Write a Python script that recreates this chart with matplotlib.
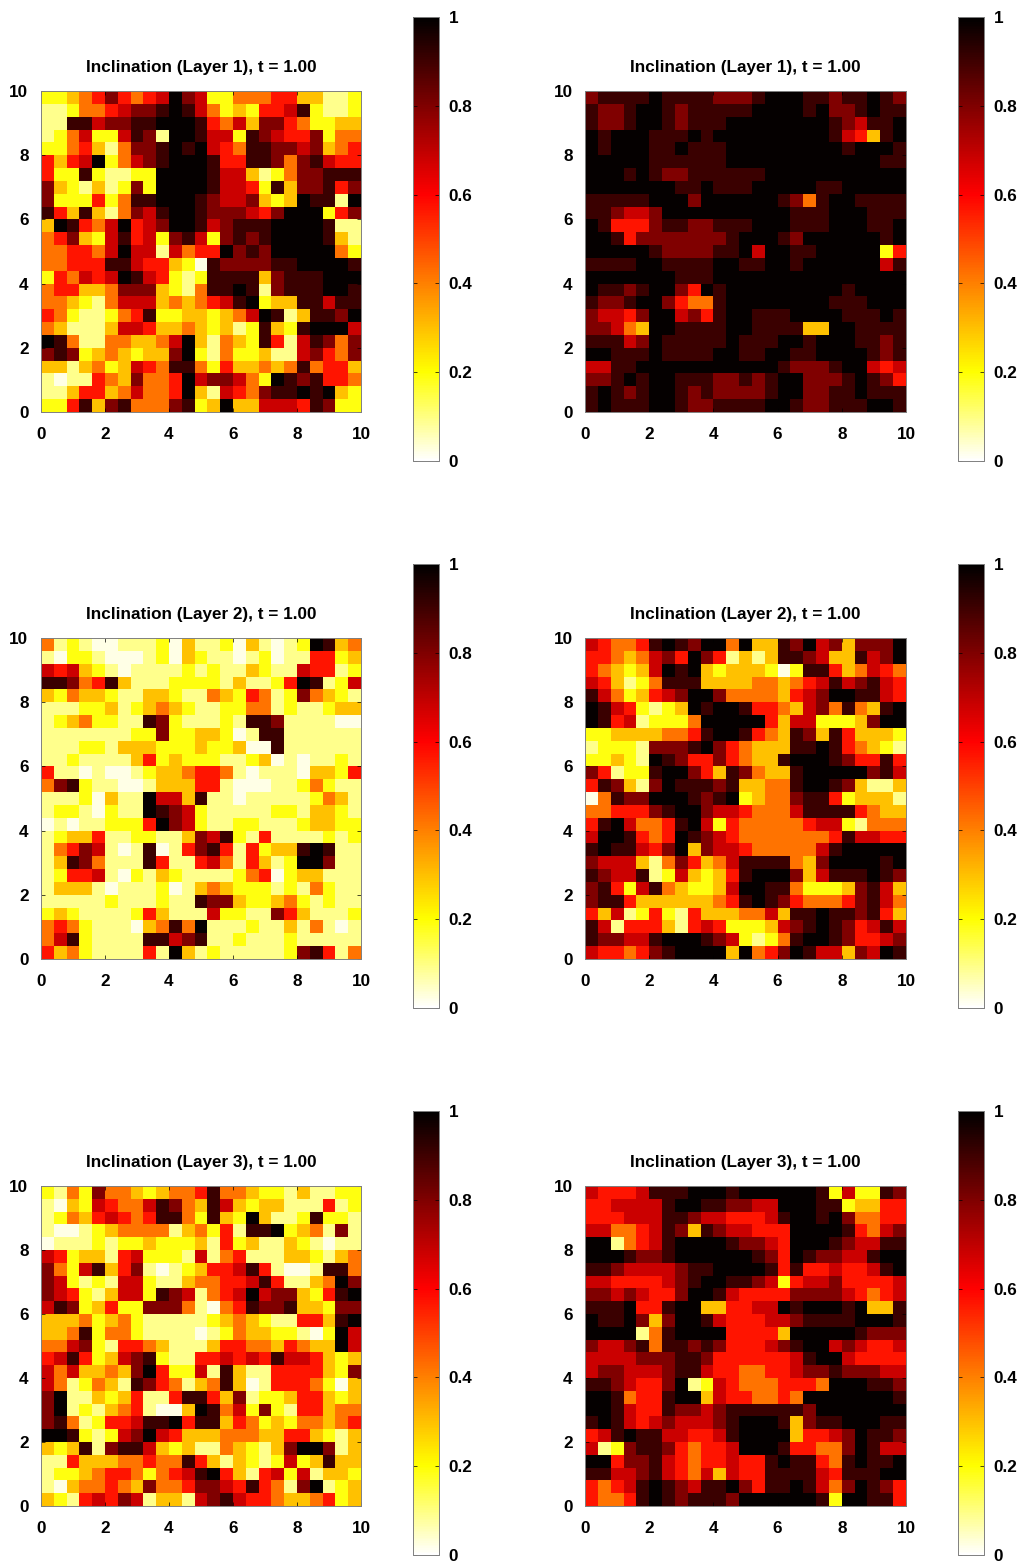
import numpy as np
import matplotlib
matplotlib.use('Agg')
import matplotlib.pyplot as plt
from matplotlib.colors import LinearSegmentedColormap

# valores leidos a ojo de la figura, fila de arriba primero, cada digito es un nivel de niveles[]
capa1_a = """22345 75456 97622 44455 33112
11244 56778 98642 32556 82112
11886 77889 99854 63775 42233
12462 26871 99866 28765 57244
22453 14778 98965 48877 67345
53569 24678 99985 58874 78655
52282 11229 99986 63124 77888
73213 12729 99986 65283 77857
72225 24889 99876 67323 98819
85383 14768 99877 76579 99257
39854 69567 99867 88899 99811
45732 68562 78627 87899 99831
44554 69661 64559 78799 99942
44555 88655 32087 77788 99998
25465 69865 21288 88378 88999
45533 47773 21488 98178 88998
44321 46663 43456 89233 88688
54211 24582 23323 46981 38879
43111 36653 34323 12832 89996
98411 44334 69314 32851 68747
78723 43233 79214 22311 67547
33134 23654 88425 33434 84553
10115 43744 59677 64298 78554
11355 34644 59316 54788 98932
22583 78444 78239 33666 58722"""

capa1_b = """78888 98888 77789 99887 88987
87789 98788 88899 99897 78988
87789 98788 89999 99998 76889
98999 88898 99999 99998 65389
98999 88988 89999 99999 89998
99999 88888 89999 99999 99988
99989 87788 88889 99999 99999
99999 99889 88899 99988 99999
88888 99979 99999 87489 98888
88766 79999 99999 98889 99888
98555 78877 88899 98889 99889
99857 77777 78999 87999 99989
99999 87777 88969 98899 99925
88889 98888 99889 98999 99968
99999 99888 99999 99999 99999
98878 99759 89999 99999 89999
87789 97544 89999 99998 88999
76657 99675 89988 89999 88898
77643 99888 89988 88339 98888
88867 98888 89888 99899 98878
99888 98888 99889 98899 99878
66889 99999 99999 87778 99656
77898 99888 77878 99777 89875
89878 99878 77778 99778 89888
89888 99877 88889 98778 88998"""

capa2_a = """41210 01112 03112 03101 29834
10221 00012 03211 01201 15523
65632 10111 12121 13211 65512
88745 83111 22221 31125 98126
32433 21133 21143 25412 74321
11122 31234 32112 24412 11233
12342 21187 21112 18871 11100
11111 11227 22332 01881 11111
11122 13332 22322 30081 11111
11211 11352 32221 12301 01121
51101 00123 34554 10111 03325
47821 10013 33551 00011 24211
11120 31196 63811 01111 12431
12210 21198 76211 11122 13321
01011 22259 76211 22111 23322
12335 11221 13768 21511 11212
14576 10180 15785 15233 89811
13874 11185 11564 15312 99711
12556 10213 21111 24502 33111
13331 01112 01343 22212 14211
11111 21112 11877 32234 21211
23211 11253 11162 21175 31112
45421 11034 84911 12113 14101
46821 11188 67811 21112 11111
53421 11151 93121 11112 78514"""

capa2_b = """65445 89879 94933 87967 37779
55434 67597 51313 88763 38679
54323 69893 23332 02885 34654
65312 48883 33344 34568 67865
86423 56799 74444 35679 98865
98652 12398 99855 43674 84389
98561 22249 99995 36622 23799
22333 34458 99854 38738 53332
12221 77789 75433 38898 54321
22321 98755 75433 89998 75585
75122 89975 38743 38999 99786
58731 79888 78334 48998 73113
04877 99987 89234 47885 23331
44555 78997 66544 46888 85433
58964 45896 25444 44566 21444
69985 45987 65444 44445 86655
89886 57937 66544 44468 99999
76663 14753 46888 84379 99989
87668 12632 35899 97368 88987
78526 84322 36998 84222 37863
78853 33333 45898 75444 57864
53612 52153 33446 38898 87853
86155 53156 52223 67898 75686
87766 89998 76212 48998 75567
65545 78999 93945 79866 37698"""

capa3_a = """21427 44323 44584 43221 31122
10326 54468 74386 32331 11512
12435 65458 84283 29311 28221
10012 34444 13425 18892 34171
01112 12232 22315 23113 21011
65233 15622 21614 51113 32134
74268 35710 12355 68510 01884
76212 16621 13445 56851 13497
76521 36628 76145 69677 32589
68723 52277 74104 58778 33277
33342 34211 11123 43211 55389
33482 44211 11012 43322 10296
44672 15543 11135 54435 43396
56852 36782 11556 56586 65323
64633 43795 22618 31155 55327
64124 31875 41348 30155 54203
79113 23511 58853 71223 55323
79121 34510 03984 62721 55344
78412 55688 95883 54232 44345
99821 26796 53334 44335 53213
32381 78863 23114 32137 99713
11533 34454 48531 32126 23833
12234 55424 56895 31562 61332
10344 54374 45776 58541 79123
32156 57613 31678 65543 34523"""

capa3_b = """65556 88899 98999 99982 62287
55666 68998 87766 99988 23355
55566 68876 65556 89989 74455
66445 68738 76655 59999 85467
99145 68999 98776 59998 76688
99987 78999 99987 59877 66899
88766 66788 99998 58556 55689
66555 56789 98876 25667 55556
77676 55799 86555 57777 65456
88895 58993 35566 98999 89338
98897 37998 65556 67888 89998
99991 48999 95555 39999 98777
76678 48878 75556 78996 76556
66667 77887 55555 56899 65555
67766 67886 55445 56778 77766
88765 57912 65444 55549 99887
99845 58993 65544 54999 99998
99865 58776 78888 88799 99999
89865 67666 78999 83788 99988
56898 86655 68999 93556 79887
61278 87545 56999 85544 79866
99577 86545 56558 98854 89889
88667 86546 36558 88865 88899
54568 98768 89758 89864 79875
54458 98788 87999 99982 99885"""

capas = [1, 1, 2, 2, 3, 3]
mapas = [capa1_a, capa1_b, capa2_a, capa2_b, capa3_a, capa3_b]
niveles = [0.02, 0.09, 0.19, 0.3, 0.42, 0.57, 0.68, 0.8, 0.91, 0.99]
ticks_ejes = [0, 2, 4, 6, 8, 10]
ticks_barra = [0, 0.2, 0.4, 0.6, 0.8, 1]
etiquetas_barra = ['0', '0.2', '0.4', '0.6', '0.8', '1']

W, H = 1022, 1562
plt.rcParams['font.family'] = 'Liberation Sans'
plt.rcParams['font.weight'] = 'bold'
plt.rcParams['font.size'] = 12.3

paleta = LinearSegmentedColormap.from_list('hot_gnuplot', [
    (0.0, '#ffffff'), (0.2, '#ffff00'), (0.4, '#ff8000'),
    (0.6, '#ff0000'), (0.8, '#800000'), (1.0, '#000000')], N=256)
GRIS = '#808080'


# Convierte una caja en pixeles de la imagen a coordenadas de figura
def caja(x0, y0, x1, y1):
    return [x0 / W, 1 - y1 / H, (x1 - x0) / W, (y1 - y0) / H]


def leer_mapa(texto):
    filas = [f.replace(' ', '') for f in texto.split('\n')]
    return np.array([[niveles[int(c)] for c in f] for f in filas])[::-1]


fig = plt.figure(figsize=(W / 100, H / 100), dpi=100)

columnas = [(41, 361, 413, 439), (585, 906, 958, 984)]
filas_px = [(91, 412, 17, 461), (638, 959, 564, 1008), (1186, 1506, 1111, 1555)]

for i, texto in enumerate(mapas):
    cx0, cx1, bx0, bx1 = columnas[i % 2]
    cy0, cy1, by0, by1 = filas_px[i // 2]

    ax = fig.add_axes(caja(cx0, cy0, cx1, cy1))
    z = leer_mapa(texto)
    n = z.shape[0]
    bordes = np.linspace(0, 10, n + 1)
    malla = ax.pcolormesh(bordes, bordes, z, cmap=paleta, vmin=0, vmax=1, rasterized=True)
    ax.set_xlim(0, 10)
    ax.set_ylim(0, 10)
    ax.set_xticks(ticks_ejes)
    ax.set_yticks(ticks_ejes)
    ax.tick_params(direction='in', length=3, width=0.5, color='black', top=True, right=True)
    ax.tick_params(axis='x', pad=11)
    ax.tick_params(axis='y', pad=9)
    ax.set_title('Inclination (Layer %d), t = 1.00' % capas[i], fontsize=12.3, fontweight='bold', pad=13.5)
    for lado in ax.spines.values():
        lado.set_color(GRIS)
        lado.set_linewidth(0.7)

    cax = fig.add_axes(caja(bx0, by0, bx1, by1))
    barra = fig.colorbar(malla, cax=cax)
    barra.set_ticks(ticks_barra)
    barra.set_ticklabels(etiquetas_barra)
    cax.tick_params(direction='in', length=3, width=0.5, color='black', left=True, right=True, pad=7)
    barra.outline.set_edgecolor(GRIS)
    barra.outline.set_linewidth(0.7)

fig.savefig('out.png', dpi=100)
